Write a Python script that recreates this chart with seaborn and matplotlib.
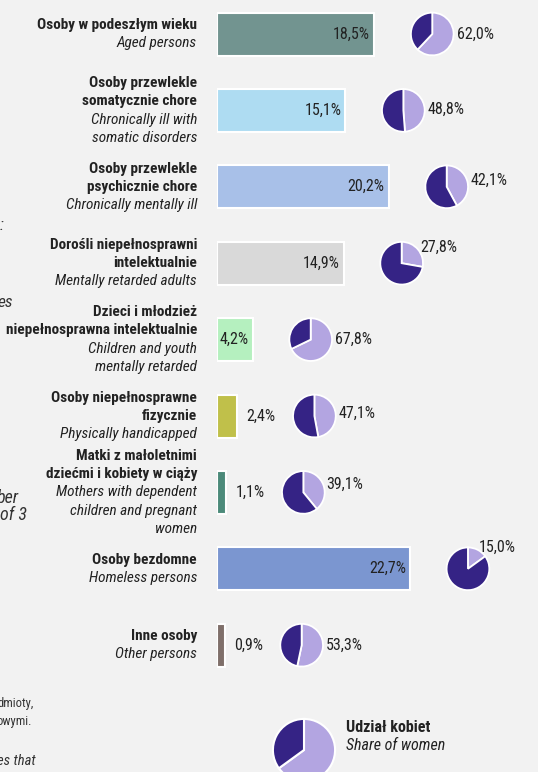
import numpy as np
import pandas as pd
import matplotlib
matplotlib.use("Agg")
import matplotlib.pyplot as plt
import seaborn as sns


# DATA
labels_pl = [
    "Osoby w podeszłym wieku",
    "Osoby przewlekle\nsomatycznie chore",
    "Osoby przewlekle\npsychicznie chore",
    "Dorośli niepełnosprawni\nintelektualnie",
    "Dzieci i młodzież\nniepełnosprawna intelektualnie",
    "Osoby niepełnosprawne\nfizycznie",
    "Matki z małoletnimi\ndziećmi i kobiety w ciąży",
    "Osoby bezdomne",
    "Inne osoby",
]
labels_en = [
    "Aged persons",
    "Chronically ill with\nsomatic disorders",
    "Chronically mentally ill",
    "Mentally retarded adults",
    "Children and youth\nmentally retarded",
    "Physically handicapped",
    "Mothers with dependent\nchildren and pregnant\nwomen",
    "Homeless persons",
    "Other persons",
]
shares = [18.5, 15.1, 20.2, 14.9, 4.2, 2.4, 1.1, 22.7, 0.9]
women_share = [62.0, 48.8, 42.1, 27.8, 67.8, 47.1, 39.1, 15.0, 53.3]
legend_women = 65.0

bar_colors = ["#729490", "#aedcf2", "#a8c0e8", "#d9d9d9", "#b5f0bf",
              "#c0c04a", "#4c8a7a", "#7b96d0", "#7f6f6a"]
pie_light = "#b3a5e1"
pie_dark = "#352385"
bg = "#f2f2f2"
txt = "#222222"

# fragments of neighbouring text cut by the left page edge
fragments = [(":", 4, 226, "italic", 12), ("es", 13, 302, "italic", 12.5),
             ("ber", 19, 498, "italic", 13), ("of 3", 27, 515, "italic", 13),
             ("dmioty,", 34, 704, "normal", 9), ("owymi.", 32, 721, "normal", 9),
             ("es that", 36, 761, "italic", 10.5)]

sns.set_style("white")
plt.rcParams["font.family"] = ["Roboto Condensed", "Roboto", "DejaVu Sans"]
plt.rcParams["text.color"] = txt

W, H = 538, 772
PX = 8.5          # pixels per percent
ROW = 76.4        # pixels per row
TOP = 34          # pixel y of first row centre
AX_LEFT = 217
FS = 11
FN = 11.5

fig = plt.figure(figsize=(W / 100, H / 100), dpi=100, facecolor=bg)
ax = fig.add_axes([AX_LEFT / W, 0, (W - AX_LEFT) / W, 1])
ax.set_facecolor(bg)

df = pd.DataFrame({"cat": labels_pl, "share": shares})
sns.barplot(data=df, x="share", y="cat", hue="cat", palette=bar_colors,
            orient="h", width=43 / ROW, edgecolor="white", linewidth=1.5,
            saturation=1, legend=False, ax=ax)
ax.set_xlim(0, (W - AX_LEFT) / PX)
ax.set_ylim((H - TOP) / ROW, -TOP / ROW)
ax.axis("off")

pitch = 18.3 / ROW
label_x = (197 - AX_LEFT) / PX
fig.canvas.draw()
to_fig = fig.transFigure.inverted()

for i, (pl, en, v, w) in enumerate(zip(labels_pl, labels_en, shares, women_share)):
    lines = [(s, "bold", "normal") for s in pl.split("\n")] + \
            [(s, "normal", "italic") for s in en.split("\n")]
    n = len(lines)
    for k, (s, wt, st) in enumerate(lines):
        ax.text(label_x, i + (k - (n - 1) / 2) * pitch, s, ha="right", va="center",
                fontsize=FS, fontweight=wt, fontstyle=st, clip_on=False)

    vtxt = f"{v:.1f}".replace(".", ",") + "%"
    if v >= 4:
        ax.text(v - 4 / PX, i, vtxt, ha="right", va="center", fontsize=FN)
        gap = 36
    else:
        ax.text(v + 9 / PX, i, vtxt, ha="left", va="center", fontsize=FN)
        gap = 55

    # pie with share of women, placed after the bar
    R = 22
    ex, ey = ax.transData.transform((v, i))
    cx, cy = ex + gap + R, ey
    (fx0, fy0) = to_fig.transform((cx - R, cy - R))
    (fx1, fy1) = to_fig.transform((cx + R, cy + R))
    pax = fig.add_axes([fx0, fy0, fx1 - fx0, fy1 - fy0])
    pax.pie([w, 100 - w], colors=[pie_light, pie_dark], startangle=90,
            counterclock=False, wedgeprops=dict(edgecolor="white", linewidth=1.3))
    pax.set_xlim(-1.03, 1.03)
    pax.set_ylim(-1.03, 1.03)
    th = np.deg2rad(max(90 - 180 * w / 100, 0))
    pax.text(1.15 * np.cos(th), 1.15 * np.sin(th),
             f"{w:.1f}".replace(".", ",") + "%", ha="left", va="center",
             fontsize=FN, clip_on=False)

# legend pie
R = 32
lx, ly = 304, H - 750
lax = fig.add_axes([(lx - R) / W, (ly - R) / H, 2 * R / W, 2 * R / H])
lax.pie([legend_women, 100 - legend_women], colors=[pie_light, pie_dark],
        startangle=90, counterclock=False,
        wedgeprops=dict(edgecolor="white", linewidth=1.5))
lax.set_xlim(-1.03, 1.03)
lax.set_ylim(-1.03, 1.03)
fig.text(346 / W, 1 - 728 / H, "Udział kobiet", ha="left", va="center",
         fontsize=FS + 0.5, fontweight="bold")
fig.text(346 / W, 1 - 746 / H, "Share of women", ha="left", va="center",
         fontsize=FS + 0.5, fontstyle="italic")

for s, x, y, st, fs in fragments:
    fig.text(x / W, 1 - y / H, s, ha="right", va="center", fontsize=fs,
             fontstyle=st, color="#333333")

fig.savefig("out.png", dpi=100, facecolor=bg)
